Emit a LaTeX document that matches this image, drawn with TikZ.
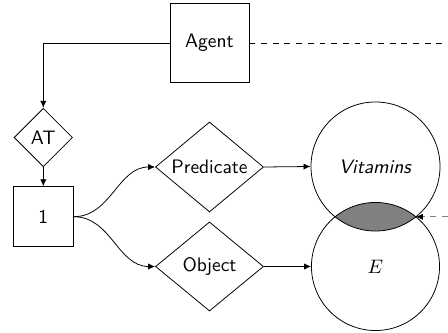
\documentclass[tikz,border=0pt]{standalone}
\usetikzlibrary{shapes.geometric,arrows.meta}
\begin{document}
\begin{tikzpicture}[x=0.513pt,y=-0.513pt,font=\sffamily,
  box/.style={draw,rectangle,inner sep=0pt},
  dia/.style={draw,diamond,inner sep=0pt,aspect=1},
  ball/.style={circle,inner sep=0pt,minimum size=66pt},
  arr/.style={-{Latex[length=3.6pt,width=3.2pt]}},
  line width=0.4pt]
\useasboundingbox (0,0) rectangle (448,333);
\node[box,minimum size=40.5pt] (agent) at (209.5,43) {Agent};
\node[dia,minimum width=30pt,minimum height=30pt] (at) at (43.3,137.5) {AT};
\node[box,minimum size=30.8pt] (one) at (43.3,216.7) {1};
\node[dia,minimum width=55.4pt,minimum height=45.7pt] (pred) at (209.5,167) {Predicate};
\node[dia,minimum width=55.4pt,minimum height=45.7pt] (obj) at (209.5,266.5) {Object};
\node[ball,minimum size=66.2pt] (vit) at (375.5,166.5) {};
\node[ball,minimum size=65.7pt] (e) at (375.5,266.5) {};
\begin{scope}
  \clip (vit.center) circle (33.1pt);
  \fill[gray] (e.center) circle (32.85pt);
\end{scope}
\draw (vit.center) circle (33.1pt);
\draw (e.center) circle (32.85pt);
\node at (vit.center) {\textit{Vitamins}};
\node at (e.center) {$E$};
\coordinate (ip) at (415.9,216.8);
\coordinate (rt1) at (448,43);
\coordinate (rt2) at (448,216.8);
\draw[arr] (agent.west) -| (at.north);
\draw[arr] (at.south) -- (one.north);
\draw[arr] (one.east) to[out=0,in=180] (pred.west);
\draw[arr] (one.east) to[out=0,in=180] (obj.west);
\draw[arr] (pred.east) -- (vit.west);
\draw[arr] (obj.east) -- (e.west);
\draw[dashed] (agent.east) -- (rt1);
\draw[dashed,gray,-{Latex[length=3.6pt,width=3.2pt,color=black]}] (rt2) -- (ip);
\end{tikzpicture}
\end{document}
